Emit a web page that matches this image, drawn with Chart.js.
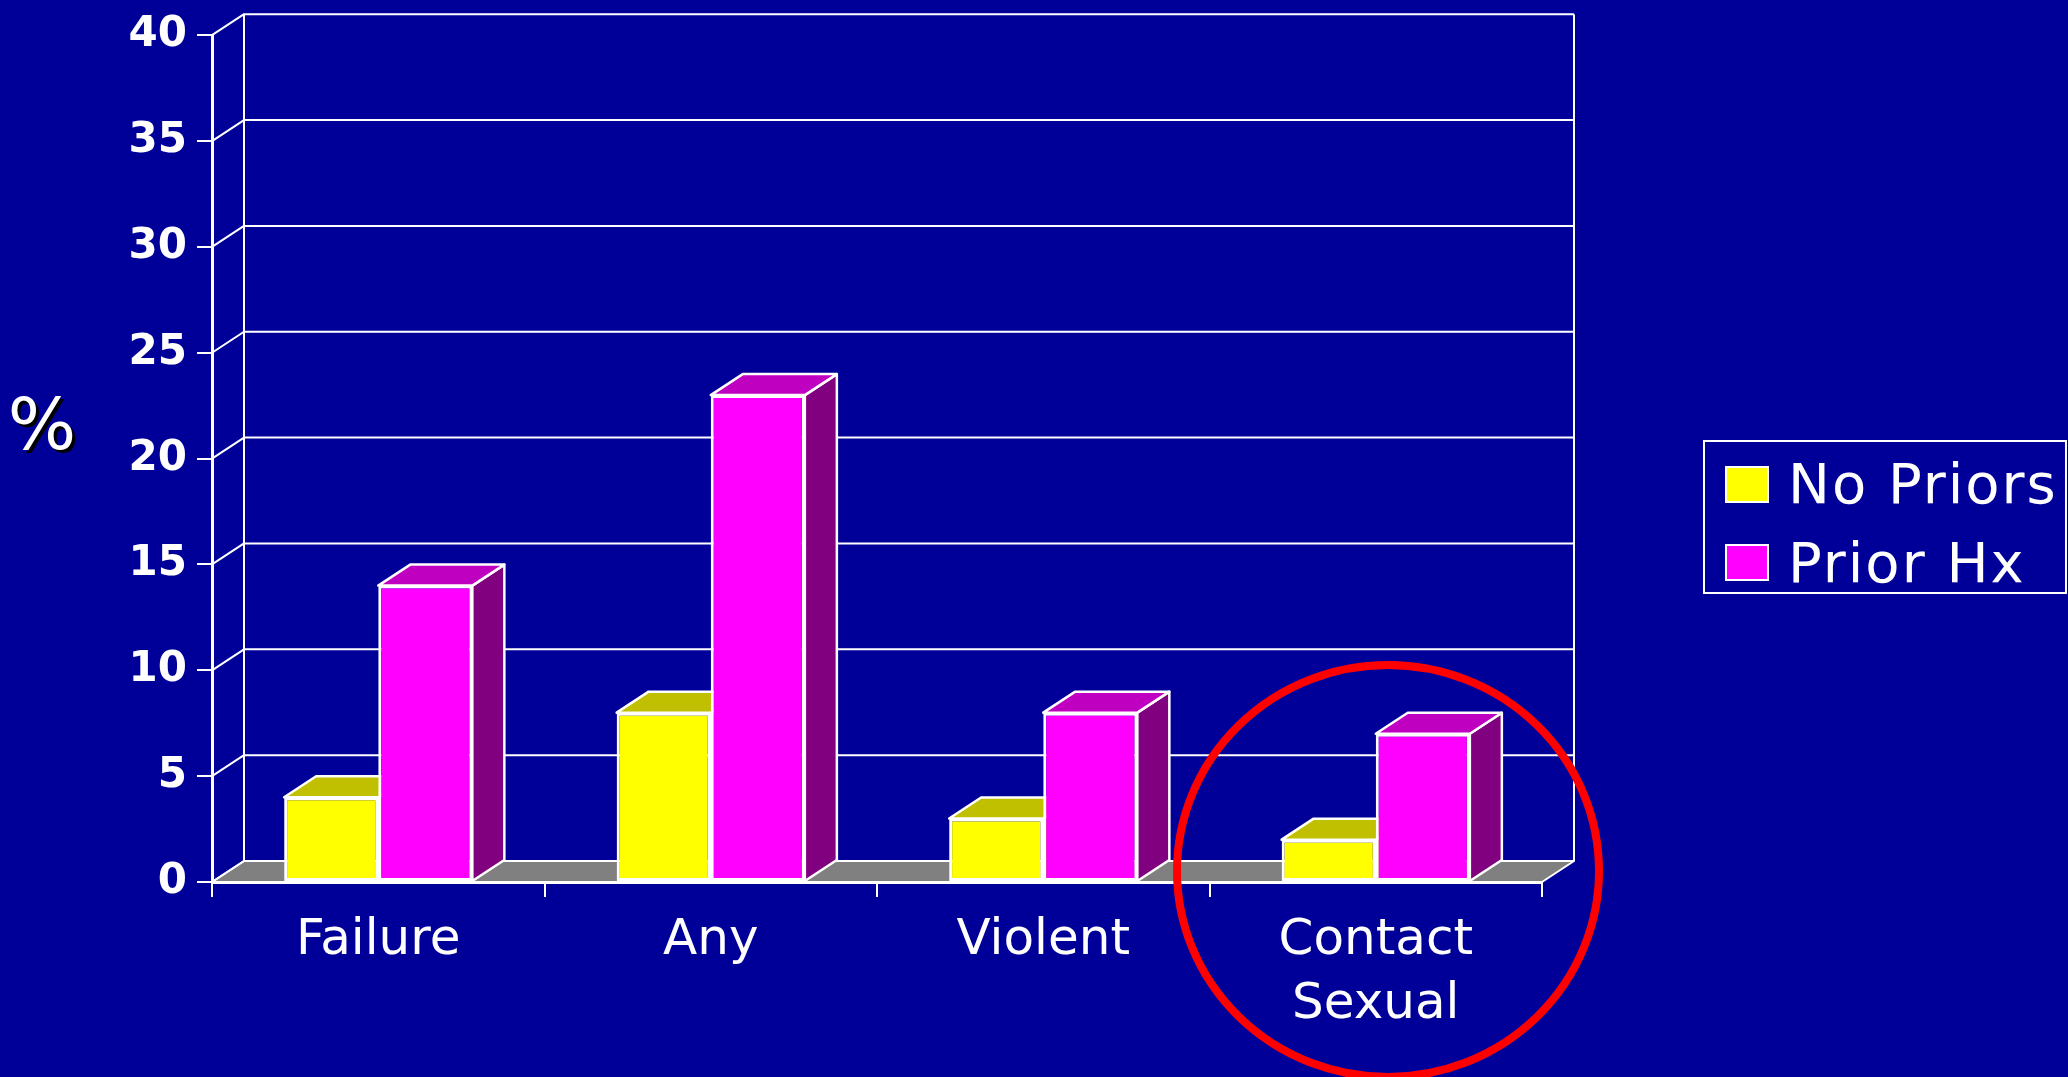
<!DOCTYPE html>
<html>
<head>
<meta charset="utf-8">
<script src="https://cdn.jsdelivr.net/npm/chart.js@4.4.0/dist/chart.umd.min.js"></script>
<style>
html, body { margin: 0; padding: 0; background: #000099; overflow: hidden; }
canvas { display: block; }
</style>
</head>
<body>
<canvas id="myChart" width="2068" height="1077"></canvas>
<script>
var categories = ['Failure', 'Any', 'Violent', ['Contact', 'Sexual']];
var seriesNames = ['No Priors', 'Prior Hx'];
var noPriors = [4, 8, 3, 2];
var priorHx = [14, 23, 8, 7];
var yTicks = [0, 5, 10, 15, 20, 25, 30, 35, 40];

// front / top / side colours for each series
var frontColors = ['#FFFF00', '#FF00FF'];
var topColors = ['#C0C000', '#C000C0'];
var sideColors = ['#808000', '#800080'];

var DX = 32, DY = -21; // depth of the fake 3d

Chart.defaults.font.family = 'DejaVu Sans';

function poly(ctx, pts, fill) {
    ctx.beginPath();
    ctx.moveTo(pts[0][0], pts[0][1]);
    for (let i = 1; i < pts.length; i++) ctx.lineTo(pts[i][0], pts[i][1]);
    ctx.closePath();
    if (fill) { ctx.fillStyle = fill; ctx.fill(); }
    ctx.stroke();
}

var depthPlugin = {
    id: 'depth',
    beforeDatasetsDraw: function (chart) {
        const ctx = chart.ctx, area = chart.chartArea, y = chart.scales.y;
        const base = y.getPixelForValue(0);
        ctx.save();
        ctx.strokeStyle = '#FFFFFF';
        ctx.lineJoin = 'round';
        ctx.lineWidth = 2;
        // floor
        poly(ctx, [[area.left, base], [area.right, base], [area.right + DX, base + DY], [area.left + DX, base + DY]], '#808080');
        // back wall
        y.ticks.forEach(t => {
            const py = y.getPixelForValue(t.value);
            ctx.beginPath();
            ctx.moveTo(area.left, py);
            ctx.lineTo(area.left + DX, py + DY);
            ctx.lineTo(area.right + DX, py + DY);
            ctx.stroke();
        });
        const top = y.getPixelForValue(y.max);
        ctx.beginPath();
        ctx.moveTo(area.left + DX, top + DY);
        ctx.lineTo(area.left + DX, base + DY);
        ctx.moveTo(area.right + DX, top + DY);
        ctx.lineTo(area.right + DX, base + DY);
        ctx.stroke();
        // bar tops and sides
        ctx.lineWidth = 2.5;
        chart.data.datasets.forEach((ds, i) => {
            chart.getDatasetMeta(i).data.forEach(bar => {
                const l = bar.x - bar.width / 2, r = bar.x + bar.width / 2;
                const t = bar.y, b = bar.base;
                poly(ctx, [[r, t], [r + DX, t + DY], [r + DX, b + DY], [r, b]], sideColors[i]);
                poly(ctx, [[l, t], [l + DX, t + DY], [r + DX, t + DY], [r, t]], topColors[i]);
            });
        });
        ctx.restore();
    },
    afterDraw: function (chart) {
        const ctx = chart.ctx;
        ctx.save();
        // legend
        ctx.strokeStyle = '#FFFFFF';
        ctx.lineWidth = 2;
        ctx.strokeRect(1704, 441, 362, 152);
        ctx.font = '56px "DejaVu Sans"';
        ctx.letterSpacing = '2px';
        ctx.textBaseline = 'alphabetic';
        ctx.textAlign = 'left';
        chart.data.datasets.forEach((ds, i) => {
            ctx.fillStyle = ds.backgroundColor;
            ctx.fillRect(1726, 467 + i * 78, 42, 35);
            ctx.strokeRect(1726, 467 + i * 78, 42, 35);
            ctx.fillStyle = '#FFFFFF';
            ctx.fillText(ds.label, 1788, 503 + i * 79);
        });
        ctx.letterSpacing = '0px';
        // axis title
        ctx.font = '72px "DejaVu Sans"';
        ctx.textAlign = 'center';
        ctx.fillStyle = '#000000';
        ctx.fillText('%', 45, 452);
        ctx.fillStyle = '#FFFFFF';
        ctx.fillText('%', 42, 449);
        // red circle
        ctx.strokeStyle = '#FF0000';
        ctx.lineWidth = 8;
        ctx.beginPath();
        ctx.ellipse(1388, 871, 211, 206, 0, 0, Math.PI * 2);
        ctx.stroke();
        ctx.restore();
    }
};

var ctx = document.getElementById('myChart');
var chart = new Chart(ctx, {
    type: 'bar',
    data: {
        labels: categories,
        datasets: [
            { label: seriesNames[0], data: noPriors, backgroundColor: frontColors[0] },
            { label: seriesNames[1], data: priorHx, backgroundColor: frontColors[1] }
        ]
    },
    options: {
        responsive: false,
        animation: false,
        layout: { padding: { left: 0, top: 30, right: 526, bottom: 0 } },
        datasets: {
            bar: {
                categoryPercentage: 0.566,
                barPercentage: 1,
                borderColor: '#FFFFFF',
                borderWidth: 3,
                borderSkipped: false
            }
        },
        plugins: {
            legend: { display: false },
            tooltip: { enabled: false }
        },
        scales: {
            x: {
                grid: { offset: true, drawOnChartArea: false, tickLength: 15, color: '#FFFFFF', lineWidth: 2 },
                border: { display: true, color: '#FFFFFF', width: 3 },
                ticks: { color: '#FFFFFF', font: { size: 50, lineHeight: 1.28 }, padding: 12, maxRotation: 0, autoSkip: false },
                afterFit: function (s) { s.height = 195; }
            },
            y: {
                min: 0,
                max: 40,
                afterBuildTicks: function (s) { s.ticks = yTicks.map(v => ({ value: v })); },
                grid: { drawOnChartArea: false, tickLength: 15, color: '#FFFFFF', lineWidth: 2 },
                border: { display: true, color: '#FFFFFF', width: 3 },
                ticks: { color: '#FFFFFF', font: { size: 42, weight: 'bold' }, padding: 10 },
                afterFit: function (s) { s.width = 212; }
            }
        }
    },
    plugins: [depthPlugin]
});
</script>
</body>
</html>
